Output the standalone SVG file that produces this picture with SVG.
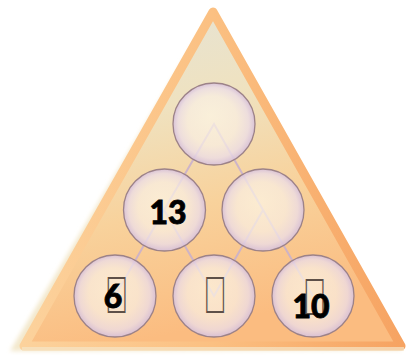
<svg xmlns="http://www.w3.org/2000/svg" width="406" height="355" viewBox="0 0 406 355">
<defs>
<linearGradient id="fillG" x1="0" y1="0" x2="0.25" y2="1">
<stop offset="0" stop-color="#e4e3d8"/>
<stop offset="0.35" stop-color="#efe2c0"/>
<stop offset="0.65" stop-color="#f8d29c"/>
<stop offset="1" stop-color="#fbbc80"/>
</linearGradient>
<linearGradient id="strokeG" x1="0" y1="0" x2="1" y2="0">
<stop offset="0" stop-color="#fcd29c"/>
<stop offset="0.5" stop-color="#fbc082"/>
<stop offset="1" stop-color="#f6a362"/>
</linearGradient>
<radialGradient id="ballG" cx="0.5" cy="0.5" r="0.5" fx="0.45" fy="0.4">
<stop offset="0" stop-color="#fdf6e6" stop-opacity="0.72"/>
<stop offset="0.6" stop-color="#f9efe4" stop-opacity="0.72"/>
<stop offset="0.86" stop-color="#ecdde6" stop-opacity="0.8"/>
<stop offset="1" stop-color="#d6c0da" stop-opacity="0.92"/>
</radialGradient>
<filter id="blur" x="-10%" y="-10%" width="120%" height="120%">
<feGaussianBlur stdDeviation="2"/>
</filter>
</defs>
<style>
.ball{fill:url(#ballG);stroke:#9c8288;stroke-width:1.3}
.conn{stroke:#c9b0cc;stroke-width:2;fill:none;opacity:0.9}
.num{font-family:Lato,"Open Sans","Liberation Sans",sans-serif;font-weight:900;font-size:32px;fill:#000;stroke:#000;stroke-width:0.8;text-anchor:middle}
.tofu{font-family:"Liberation Sans",sans-serif;font-size:52px;fill:#5e5048;text-anchor:middle}
</style>
<rect width="406" height="355" fill="#ffffff"/>
<g id="pyramid">
<polygon points="213,10 402,350 10,351" fill="#f3e8cc" filter="url(#blur)"/>
<polygon points="213,12 401,346 24,346" fill="url(#fillG)" stroke="url(#strokeG)" stroke-width="9" stroke-linejoin="round"/>
<line x1="22" y1="349" x2="404" y2="349" stroke="#f6e6c8" stroke-width="4" opacity="0.7"/>
</g>
<g id="connectors">
<polyline class="conn" points="115,296 164,210 214,124 263,210 313,296"/>
<polyline class="conn" points="164,210 214,296 263,210"/>
</g>
<g id="node-top"><circle class="ball" cx="214" cy="124" r="41"/></g>
<g id="node-mid-left"><circle class="ball" cx="164.5" cy="210" r="41"/><text class="num" x="168" y="224">13</text></g>
<g id="node-mid-right"><circle class="ball" cx="263" cy="210" r="41"/></g>
<g id="node-bot-left"><circle class="ball" cx="115" cy="296" r="41"/><text class="tofu" transform="translate(116.5,313) scale(0.62,1)">&#xE000;</text><text class="num" x="113" y="308">6</text></g>
<g id="node-bot-mid"><circle class="ball" cx="214" cy="296" r="41"/><text class="tofu" transform="translate(215,313) scale(0.62,1)">&#xE000;</text></g>
<g id="node-bot-right"><circle class="ball" cx="313" cy="296" r="41"/><text class="tofu" transform="translate(314.5,315) scale(0.62,1)">&#xE000;</text><text class="num" x="311" y="318">10</text></g>
</svg>
